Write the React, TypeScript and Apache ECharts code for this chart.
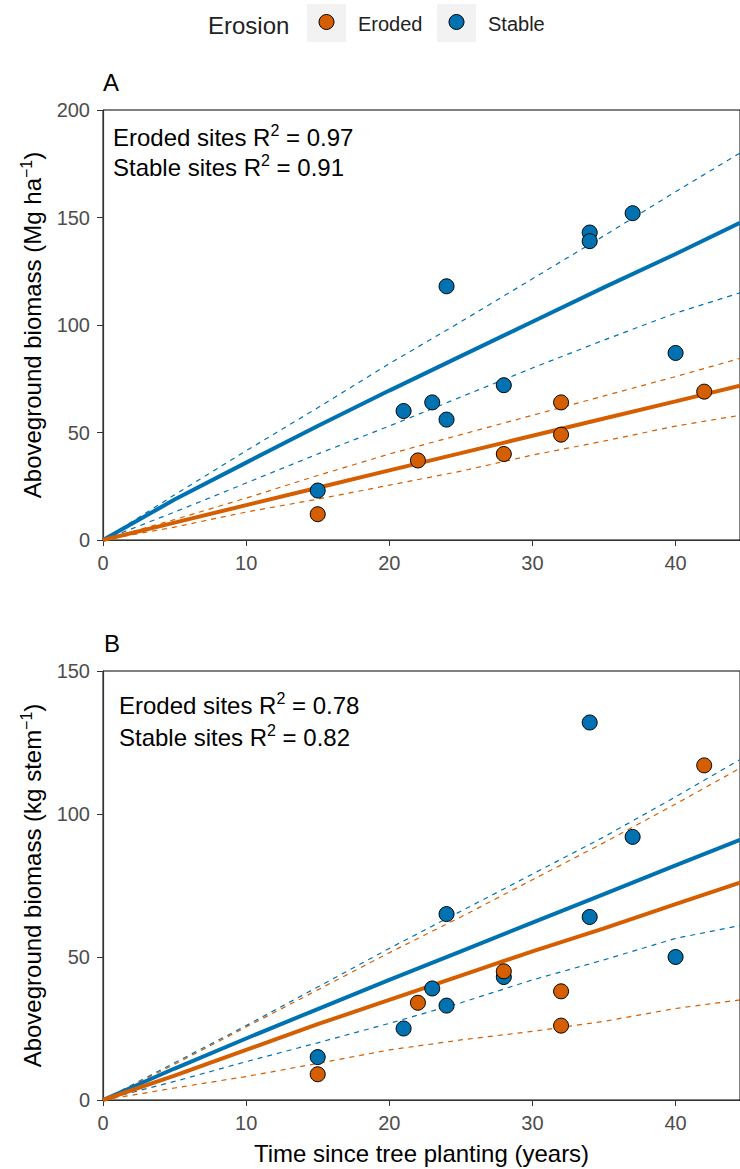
import { useEffect, useRef } from "react";
import * as echarts from "echarts";

const ORANGE = "#D55E00";
const BLUE = "#0072B2";
const FONT = "Liberation Sans, Arial, sans-serif";

// Observed sites: planting age (years) and biomass
const stableAgeA = [15, 21, 23, 24, 24, 28, 34, 34, 37, 40];
const stableBiomassA = [23, 60, 64, 56, 118, 72, 143, 139, 152, 87];
const erodedAgeA = [15, 22, 28, 32, 32, 42];
const erodedBiomassA = [12, 37, 40, 64, 49, 69];

const stableAgeB = [15, 21, 23, 24, 24, 28, 34, 34, 37, 40];
const stableBiomassB = [15, 25, 39, 65, 33, 43, 132, 64, 92, 50];
const erodedAgeB = [15, 22, 28, 32, 32, 42];
const erodedBiomassB = [9, 34, 45, 38, 26, 117];

// Fitted curves and their confidence bands, sampled along the age axis
const fitAge = [0, 5, 10, 15, 20, 25, 30, 35, 40, 44.5];
const stableFitA = [0, 18.8, 36, 53, 69.5, 85.5, 101.5, 117.5, 133, 147.5];
const stableUpperA = [0, 21, 41.5, 61.5, 82, 101.5, 121.5, 141.5, 162, 180];
const stableLowerA = [0, 13, 26.5, 40, 53, 66.5, 80, 93, 105.5, 115];
const erodedFitA = [0, 8.1, 16.2, 24.3, 32.4, 40.4, 48.5, 56.5, 64.5, 71.8];
const erodedUpperA = [0, 9.5, 19.5, 30, 40, 49, 58, 67, 76, 84.5];
const erodedLowerA = [0, 6, 13, 19, 25.5, 32, 39.5, 46, 53, 58];

const stableFitB = [0, 11, 21.5, 31.8, 42, 52, 62, 72, 82, 91];
const stableUpperB = [0, 13, 26, 39.5, 53, 66, 79, 92, 106, 119];
const stableLowerB = [0, 6.5, 13.4, 20, 26.8, 34, 42, 49, 56.5, 61];
const erodedFitB = [0, 8.5, 17.5, 26.5, 35, 43.5, 52, 60, 68.5, 76];
const erodedUpperB = [0, 12.5, 25.5, 38.5, 51.5, 64, 77, 90, 103.5, 116];
const erodedLowerB = [0, 4.2, 8.2, 12.8, 17.5, 21, 24, 27.5, 32, 35];

const xTicks = [0, 10, 20, 30, 40];
const fitStatsA = [
  { label: "Eroded sites", r2: "0.97" },
  { label: "Stable sites", r2: "0.91" },
];
const fitStatsB = [
  { label: "Eroded sites", r2: "0.78" },
  { label: "Stable sites", r2: "0.82" },
];

const pairs = (xs: number[], ys: number[]) => xs.map((x, i) => [x, ys[i]]);

export default function App() {
  const ref = useRef<HTMLDivElement>(null);

  useEffect(() => {
    document.body.style.margin = "0";
    const chart = echarts.init(ref.current!, null, { renderer: "svg" });

    const supRich = {
      s: { fontSize: 16, padding: [0, 0, 13, 0], fontFamily: FONT, color: "#000" },
    };

    const xAxisBase = (gridIndex: number, withName: boolean) => ({
      type: "value",
      gridIndex,
      min: 0,
      max: 44.5,
      interval: 10,
      name: withName ? "Time since tree planting (years)" : "",
      nameLocation: "middle",
      nameGap: 41,
      nameTextStyle: { fontSize: 24, color: "#000", fontFamily: FONT },
      axisLine: { show: true, lineStyle: { color: "#333", width: 1.2 } },
      axisTick: { show: true, length: 6, lineStyle: { color: "#333" } },
      axisLabel: {
        color: "#4d4d4d",
        fontSize: 20,
        fontFamily: FONT,
        margin: 13,
        showMaxLabel: false,
        formatter: (v: number) => (xTicks.includes(v) ? String(v) : ""),
      },
      splitLine: { show: false },
    });

    const yAxisBase = (gridIndex: number, max: number, unit: string) => ({
      type: "value",
      gridIndex,
      min: 0,
      max,
      interval: 50,
      name: `Aboveground biomass (${unit}{s|−1})`,
      nameLocation: "middle",
      nameRotate: 90,
      nameGap: 56,
      nameTextStyle: { fontSize: 24, color: "#000", fontFamily: FONT, rich: supRich },
      axisLine: { show: true, lineStyle: { color: "#333", width: 1.2 } },
      axisTick: { show: true, length: 6, lineStyle: { color: "#333" } },
      axisLabel: { color: "#4d4d4d", fontSize: 20, fontFamily: FONT, margin: 13 },
      splitLine: { show: false },
    });

    const fitLine = (
      name: string,
      xi: number,
      ys: number[],
      color: string,
      dashed: boolean
    ) => ({
      type: "line",
      name,
      xAxisIndex: xi,
      yAxisIndex: xi,
      data: pairs(fitAge, ys),
      symbol: "none",
      smooth: false,
      silent: true,
      z: 2,
      lineStyle: dashed
        ? { color, width: 1.2, type: [5, 5] }
        : { color, width: 4 },
    });

    const points = (name: string, xi: number, xs: number[], ys: number[], color: string) => ({
      type: "scatter",
      name,
      xAxisIndex: xi,
      yAxisIndex: xi,
      data: pairs(xs, ys),
      symbol: "circle",
      symbolSize: 15,
      z: 5,
      itemStyle: { color, borderColor: "#000", borderWidth: 1, opacity: 1 },
    });

    const statText = (x: number, y: number, s: { label: string; r2: string }) => ({
      type: "text",
      x,
      y,
      style: {
        text: `${s.label} R{s|2} = ${s.r2}`,
        fontSize: 24,
        fontFamily: FONT,
        fill: "#000",
        verticalAlign: "middle",
        rich: supRich,
      },
    });

    const legendKey = (x: number, color: string, label: string) => [
      { type: "rect", shape: { x, y: 4, width: 39, height: 38 }, style: { fill: "#f2f2f2" } },
      {
        type: "circle",
        shape: { cx: x + 19.5, cy: 22, r: 7.5 },
        style: { fill: color, stroke: "#000", lineWidth: 1 },
      },
      {
        type: "text",
        x: x + 51,
        y: 24,
        style: { text: label, fontSize: 20, fontFamily: FONT, fill: "#222", verticalAlign: "middle" },
      },
    ];

    chart.setOption({
      animation: false,
      backgroundColor: "#fff",
      grid: [
        { left: 103, top: 110, width: 638.5, height: 430, show: true, borderColor: "#000", borderWidth: 1, backgroundColor: "transparent" },
        { left: 103, top: 671, width: 638.5, height: 429, show: true, borderColor: "#000", borderWidth: 1, backgroundColor: "transparent" },
      ],
      xAxis: [xAxisBase(0, false), xAxisBase(1, true)],
      yAxis: [yAxisBase(0, 200, "Mg ha"), yAxisBase(1, 150, "kg stem")],
      series: [
        fitLine("Stable upper A", 0, stableUpperA, BLUE, true),
        fitLine("Stable lower A", 0, stableLowerA, BLUE, true),
        fitLine("Eroded upper A", 0, erodedUpperA, ORANGE, true),
        fitLine("Eroded lower A", 0, erodedLowerA, ORANGE, true),
        fitLine("Stable fit A", 0, stableFitA, BLUE, false),
        fitLine("Eroded fit A", 0, erodedFitA, ORANGE, false),
        points("Stable", 0, stableAgeA, stableBiomassA, BLUE),
        points("Eroded", 0, erodedAgeA, erodedBiomassA, ORANGE),

        fitLine("Stable upper B", 1, stableUpperB, BLUE, true),
        fitLine("Stable lower B", 1, stableLowerB, BLUE, true),
        fitLine("Eroded upper B", 1, erodedUpperB, ORANGE, true),
        fitLine("Eroded lower B", 1, erodedLowerB, ORANGE, true),
        fitLine("Stable fit B", 1, stableFitB, BLUE, false),
        fitLine("Eroded fit B", 1, erodedFitB, ORANGE, false),
        points("Stable B", 1, stableAgeB, stableBiomassB, BLUE),
        points("Eroded B", 1, erodedAgeB, erodedBiomassB, ORANGE),
      ],
      graphic: [
        {
          type: "text",
          x: 208,
          y: 25,
          style: { text: "Erosion", fontSize: 24, fontFamily: FONT, fill: "#222", verticalAlign: "middle" },
        },
        ...legendKey(307, ORANGE, "Eroded"),
        ...legendKey(437, BLUE, "Stable"),
        {
          type: "text",
          x: 103,
          y: 82,
          style: { text: "A", fontSize: 24, fontFamily: FONT, fill: "#000", verticalAlign: "middle" },
        },
        {
          type: "text",
          x: 104,
          y: 643,
          style: { text: "B", fontSize: 24, fontFamily: FONT, fill: "#000", verticalAlign: "middle" },
        },
        statText(113, 137, fitStatsA[0]),
        statText(113, 167, fitStatsA[1]),
        statText(119, 705, fitStatsB[0]),
        statText(119, 737, fitStatsB[1]),
      ],
    });

    return () => chart.dispose();
  }, []);

  return <div ref={ref} style={{ width: 740, height: 1169 }} />;
}
